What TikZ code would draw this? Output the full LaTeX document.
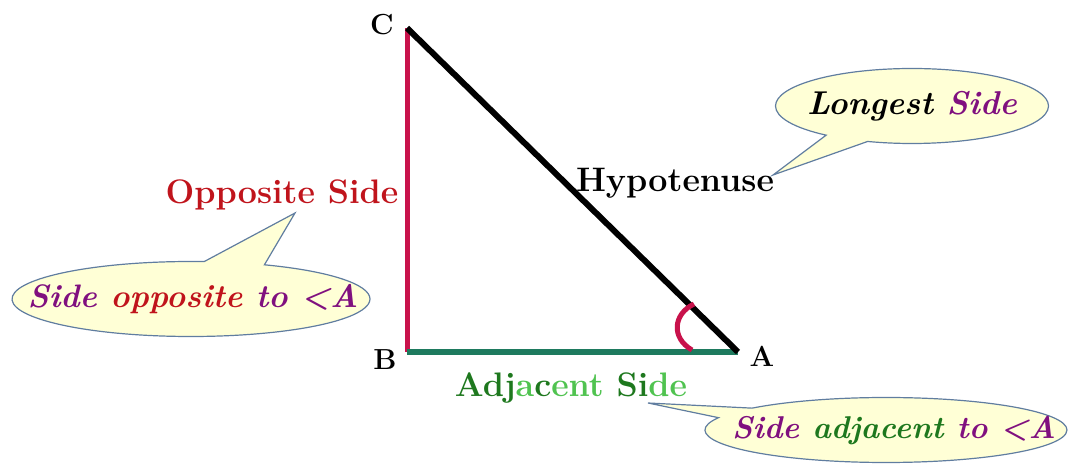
\documentclass[tikz,border=0pt]{standalone}
\usepackage{tikz}
\usetikzlibrary{shapes.callouts}
\definecolor{oppred}{RGB}{200,18,75}
\definecolor{adjgreen}{RGB}{30,122,94}
\definecolor{txtred}{RGB}{192,20,28}
\definecolor{txtpurple}{RGB}{128,16,127}
\definecolor{darkgrn}{RGB}{30,120,30}
\definecolor{lightgrn}{RGB}{80,195,80}
\definecolor{bubblefill}{RGB}{255,255,214}
\definecolor{bubbleline}{RGB}{96,125,160}

\begin{document}
\begin{tikzpicture}[x=1pt,y=1pt,
  bubble/.style={ellipse callout,draw=bubbleline,fill=bubblefill,line width=1.2pt,
    callout pointer arc=20,inner sep=0pt},
  side/.style={font=\fontsize{34}{34}\selectfont\bfseries,inner sep=0pt},
  note/.style={font=\fontsize{32.5}{32.5}\selectfont\bfseries\itshape,inner sep=0pt},
  vtx/.style={font=\fontsize{29}{29}\selectfont\bfseries,inner sep=0pt}]
  \useasboundingbox (0,0) rectangle (1069,464);
  \coordinate (C) at (407,436);
  \coordinate (B) at (407,112);
  \coordinate (A) at (738,112);
  \draw[oppred,line width=5pt] (B) -- (C);
  \draw[adjgreen,line width=6pt] (B) -- (A);
  \draw[line width=6pt] (C) -- (A);
  \draw[oppred,line width=5pt] (692,114) .. controls (671,126) and (673,150) .. (694,160);
  \foreach \v/\x/\y in {C/382/439,B/385/104,A/762/108}
    \node[vtx] (l\v) at (\x,\y) {\v};
  \node[side,text=txtred] (oppLbl) at (282,269) {Opposite Side};
  \node[side] (hypLbl) at (675,281) {Hypotenuse};
  \node[side] (adjLbl) at (571,76) {\textcolor{darkgrn}{Adj}\textcolor{lightgrn}{a}\textcolor{darkgrn}{c}\textcolor{lightgrn}{ent }\textcolor{darkgrn}{Si}\textcolor{lightgrn}{de}};
  \coordinate (oppTip) at (295,251);
  \coordinate (hypTip) at (773,289);
  \coordinate (adjTip) at (648,61);
  \node[bubble,minimum width=358,minimum height=75,callout absolute pointer={(oppTip)}] (oppBubble) at (191,165) {};
  \node[bubble,minimum width=273,minimum height=75,callout absolute pointer={(hypTip)}] (hypBubble) at (912,358) {};
  \node[bubble,minimum width=362,minimum height=65,callout absolute pointer={(adjTip)}] (adjBubble) at (886,34) {};
  \node[note,text=txtpurple,xshift=2] (oppNote) at (oppBubble.center) {Side \textcolor{txtred}{opposite} to \textless A};
  \node[note,font=\fontsize{33}{33}\selectfont\bfseries\itshape] (hypNote) at (hypBubble.center) {Longest \textcolor{txtpurple}{Side}};
  \node[note,text=txtpurple,xshift=8,font=\fontsize{31.5}{31.5}\selectfont\bfseries\itshape] (adjNote) at (adjBubble.center) {Side \textcolor{darkgrn}{adjacent} to \textless A};
\end{tikzpicture}
\end{document}
